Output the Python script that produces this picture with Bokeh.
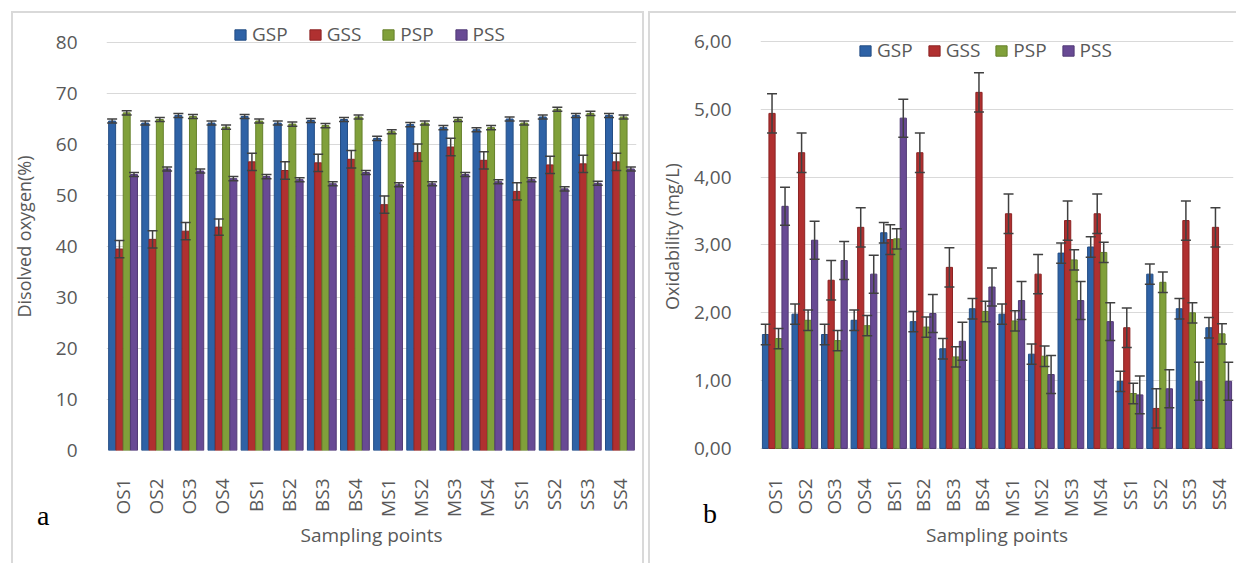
import math
from bokeh.plotting import figure
from bokeh.models import (ColumnDataSource, FactorRange, Range1d, FixedTicker,
                          Whisker, TeeHead, Div)
from bokeh.transform import dodge
from bokeh.layouts import row, column
from bokeh.embed import file_html
from bokeh.resources import INLINE

sites = ["OS1", "OS2", "OS3", "OS4", "BS1", "BS2", "BS3", "BS4",
         "MS1", "MS2", "MS3", "MS4", "SS1", "SS2", "SS3", "SS4"]
series = ["GSP", "GSS", "PSP", "PSS"]

# Panel a: dissolved oxygen (%)
do_gsp = [64.6, 64.2, 65.7, 64.2, 65.5, 64.2, 64.7, 64.9, 61.2, 63.9, 63.3, 62.9, 65.0, 65.4, 65.7, 65.7]
do_gss = [39.5, 41.4, 43.0, 43.8, 56.6, 54.9, 56.4, 57.1, 48.2, 58.4, 59.5, 56.9, 50.8, 56.0, 56.2, 56.6]
do_psp = [66.2, 64.9, 65.5, 63.4, 64.6, 64.0, 63.7, 65.4, 62.5, 64.2, 64.9, 63.3, 64.2, 66.9, 66.1, 65.4]
do_pss = [54.1, 55.2, 54.8, 53.3, 53.7, 53.1, 52.3, 54.5, 52.1, 52.3, 54.1, 52.7, 53.1, 51.3, 52.4, 55.2]
do_err_gsp = [0.4] * 16
do_err_gss = [1.7, 1.7, 1.7, 1.6, 1.7, 1.7, 1.7, 1.7, 1.7, 1.7, 1.7, 1.7, 1.7, 1.7, 1.7, 1.7]
do_err_psp = [0.4] * 16
do_err_pss = [0.4] * 16
do_ticks = [0, 10, 20, 30, 40, 50, 60, 70, 80]

# Panel b: oxidability (mg/L)
ox_gsp = [1.68, 1.98, 1.68, 1.89, 3.18, 1.87, 1.47, 2.06, 1.98, 1.39, 2.88, 2.97, 0.99, 2.57, 2.06, 1.78]
ox_gss = [4.94, 4.36, 2.48, 3.26, 3.08, 4.36, 2.67, 5.25, 3.46, 2.57, 3.36, 3.46, 1.78, 0.59, 3.36, 3.26]
ox_psp = [1.62, 1.89, 1.59, 1.81, 3.09, 1.79, 1.35, 2.02, 1.88, 1.36, 2.78, 2.89, 0.81, 2.45, 2.00, 1.69]
ox_pss = [3.57, 3.07, 2.77, 2.57, 4.87, 1.99, 1.58, 2.38, 2.18, 1.09, 2.18, 1.87, 0.79, 0.88, 0.99, 0.99]
ox_err_gsp = [0.15] * 16
ox_err_gss = [0.29, 0.29, 0.29, 0.29, 0.22, 0.29, 0.29, 0.29, 0.29, 0.29, 0.29, 0.29, 0.29, 0.29, 0.29, 0.29]
ox_err_psp = [0.15] * 16
ox_err_pss = [0.28] * 16
ox_ticks = [0, 1, 2, 3, 4, 5, 6]
ox_tick_labels = ["0,00", "1,00", "2,00", "3,00", "4,00", "5,00", "6,00"]

colors = ["#2E62A6", "#B03030", "#80A03A", "#684A94"]
edges = ["#234D84", "#8C2323", "#65802B", "#513A75"]
offsets = [-0.33, -0.11, 0.11, 0.33]
FONT = "Open Sans"
TXT = "#595959"
GRID = "#d9d9d9"


def make_panel(width, border_lr, yrange, ticks, tick_overrides, ytitle, ystandoff,
               vals, errs, legend_loc, legend_spacing):
    p = figure(width=width, height=563, x_range=FactorRange(*sites),
               y_range=Range1d(*yrange), output_backend="svg",
               toolbar_location=None, min_border_left=border_lr[0],
               min_border_right=border_lr[1], min_border_top=22, min_border_bottom=113)
    p.outline_line_color = None
    for i, name in enumerate(series):
        src = ColumnDataSource(dict(site=sites, v=vals[i],
                                    up=[a + b for a, b in zip(vals[i], errs[i])],
                                    lo=[a - b for a, b in zip(vals[i], errs[i])]))
        p.vbar(x=dodge("site", offsets[i], range=p.x_range), top="v", width=0.21,
               source=src, fill_color=colors[i], line_color=edges[i], line_width=1,
               legend_label=name)
        w = Whisker(source=src, base=dodge("site", offsets[i], range=p.x_range),
                    upper="up", lower="lo", line_color="#404040", line_width=1.5,
                    upper_head=TeeHead(size=10, line_color="#404040", line_width=1.5),
                    lower_head=TeeHead(size=10, line_color="#404040", line_width=1.5),
                    level="overlay")
        p.add_layout(w)

    p.xgrid.grid_line_color = None
    p.ygrid.grid_line_color = GRID
    p.ygrid.grid_line_width = 1
    p.yaxis.ticker = FixedTicker(ticks=ticks)
    if tick_overrides:
        p.yaxis.major_label_overrides = tick_overrides
    p.yaxis.axis_line_color = None
    p.yaxis.major_tick_line_color = None
    p.yaxis.minor_tick_line_color = None
    p.yaxis.major_label_standoff = 23
    p.yaxis.major_label_text_font = FONT
    p.yaxis.major_label_text_font_size = "19px"
    p.yaxis.major_label_text_color = TXT
    p.yaxis.axis_label = ytitle
    p.yaxis.axis_label_text_font = FONT
    p.yaxis.axis_label_text_font_size = "18px"
    p.yaxis.axis_label_text_font_style = "normal"
    p.yaxis.axis_label_text_color = TXT
    p.yaxis.axis_label_standoff = ystandoff

    p.xaxis.axis_line_color = None
    p.xaxis.major_tick_line_color = None
    p.xaxis.minor_tick_line_color = None
    p.xaxis.major_label_orientation = math.pi / 2
    p.xaxis.major_label_standoff = 22
    p.xaxis.major_label_text_font = FONT
    p.xaxis.major_label_text_font_size = "19px"
    p.xaxis.major_label_text_color = TXT
    p.xaxis.axis_label = "Sampling points"
    p.xaxis.axis_label_text_font = FONT
    p.xaxis.axis_label_text_font_size = "19px"
    p.xaxis.axis_label_text_font_style = "normal"
    p.xaxis.axis_label_text_color = TXT
    p.xaxis.axis_label_standoff = 2

    lg = p.legend[0]
    lg.orientation = "horizontal"
    lg.location = legend_loc
    lg.border_line_color = None
    lg.background_fill_alpha = 0
    lg.padding = 0
    lg.margin = 0
    lg.spacing = legend_spacing
    lg.glyph_width = 14
    lg.glyph_height = 13
    lg.label_standoff = 5
    lg.label_text_font = FONT
    lg.label_text_font_size = "19px"
    lg.label_text_color = TXT
    return p


p1 = make_panel(642, (106, 6), (0, 83.92), do_ticks, None,
                "Disolved oxygen(%)", 17,
                [do_gsp, do_gss, do_psp, do_pss],
                [do_err_gsp, do_err_gss, do_err_psp, do_err_pss],
                (127, 403), 20)
p2 = make_panel(594, (118, 3), (-0.03, 6.28), ox_ticks,
                {t: l for t, l in zip(ox_ticks, ox_tick_labels)},
                "Oxidability (mg/L)", 7,
                [ox_gsp, ox_gss, ox_psp, ox_pss],
                [ox_err_gsp, ox_err_gss, ox_err_psp, ox_err_pss],
                (98, 387), 14)

LETTER = {"position": "absolute", "font-family": "Liberation Serif",
          "font-size": "28px", "color": "black", "pointer-events": "none"}
div_a = Div(text="a", styles=dict(LETTER, left="32px", top="491px"))
div_b = Div(text="b", styles=dict(LETTER, left="698px", top="489px"))
box_a = Div(text="", width=633, height=555,
            styles={"position": "absolute", "left": "6px", "top": "6px",
                    "width": "633px", "height": "555px",
                    "border-left": "2px solid #d9d9d9", "border-top": "2px solid #d9d9d9",
                    "border-right": "2px solid #d9d9d9", "pointer-events": "none"})
box_b = Div(text="", width=591, height=555,
            styles={"position": "absolute", "left": "643px", "top": "6px",
                    "width": "591px", "height": "555px",
                    "border-left": "2px solid #d9d9d9", "border-top": "2px solid #d9d9d9",
                    "pointer-events": "none"})

layout = column(row(p1, p2), div_a, div_b, box_a, box_b)
open("out.html", "w").write(file_html(layout, INLINE))
